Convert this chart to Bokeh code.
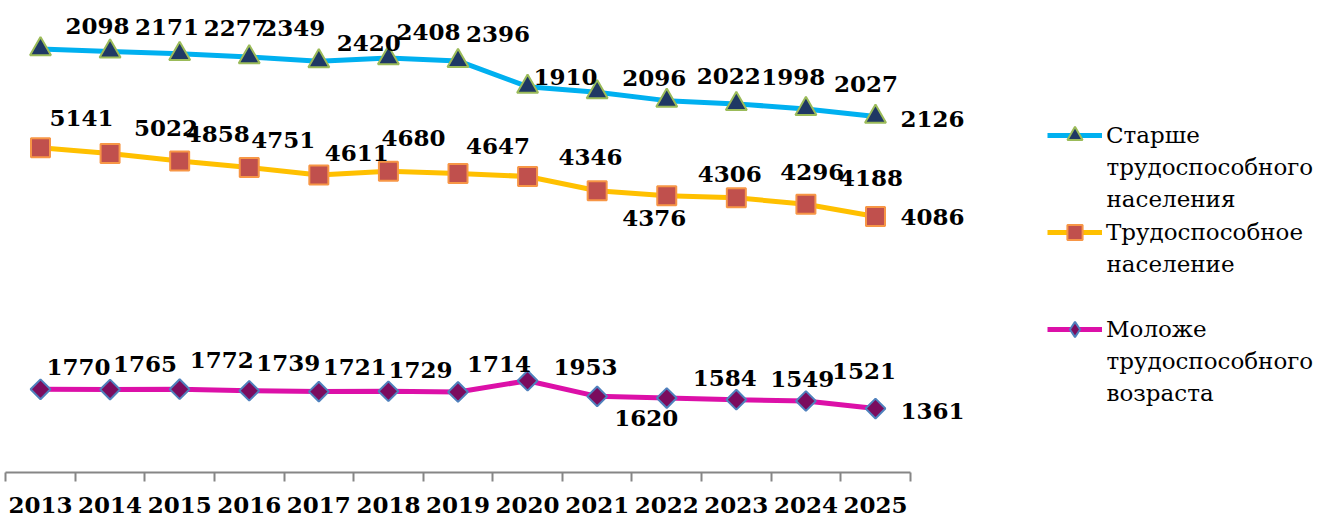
from bokeh.plotting import figure
from bokeh.models import (Range1d, FixedTicker, LabelSet, ColumnDataSource,
                          Legend, LegendItem, Label)
from bokeh.core.properties import value
from bokeh.embed import file_html
from bokeh.resources import INLINE

# ---------------- data ----------------
years = ["2013", "2014", "2015", "2016", "2017", "2018", "2019",
         "2020", "2021", "2022", "2023", "2024", "2025"]
younger = [1770, 1765, 1772, 1739, 1721, 1729, 1714, 1953, 1620, 1584, 1549, 1521, 1361]
working = [5141, 5022, 4858, 4751, 4611, 4680, 4647, 4346, 4376, 4306, 4296, 4188, 4086]
older = [2098, 2171, 2277, 2349, 2420, 2408, 2396, 1910, 2096, 2022, 1998, 2027, 2126]

series_names = ["Старше\nтрудоспособного\nнаселения",
                "Трудоспособное\nнаселение",
                "Моложе\nтрудоспособного\nвозраста"]

# ---------------- label placement (screen px, dx right / dy down) ----------------
young_dx = [38, 35, 42, 39, 36, 32, 41, 58, 49, 58, 66, 58, 57]
young_dy = [-22, -26, -29, -28, -25, -21, -28, -14, 22, -20, -21, -30, 2]
work_dx = [41, 56, 38, 34, 38, 25, 40, 63, 57, 63, 76, 65, 57]
work_dy = [-30, -26, -27, -27, -22, -33, -28, -19, 27, -22, -26, -26, 1]
old_dx = [57, 57, 56, 44, 50, 40, 40, 38, 57, 62, 57, 60, 57]
old_dy = [-23, -24, -26, -29, -18, -26, -27, -10, -14, -25, -27, -25, 2]

# ---------------- layout constants ----------------
W, H = 1317, 516
FRAME_H = 472          # axis line position from top
STEP = 69.583          # px per category
X0 = 40                # px of first category centre
SERIF = "DejaVu Serif"
FS_BOLD = "23px"
FS_LEG = "23px"

x = list(range(len(years)))
# stacked line chart: cumulative sums
cum_young = list(younger)
cum_work = [a + b for a, b in zip(cum_young, working)]
cum_old = [a + b for a, b in zip(cum_work, older)]

p = figure(width=W, height=H, output_backend="svg", toolbar_location=None,
           x_range=Range1d(-X0 / STEP, (W - X0) / STEP),
           y_range=Range1d(0, FRAME_H / 0.047),
           y_axis_location=None,
           min_border_left=0, min_border_right=0,
           min_border_top=0, min_border_bottom=H - FRAME_H)
p.outline_line_color = None
p.xgrid.visible = False
p.ygrid.visible = False
p.background_fill_color = "white"
p.border_fill_color = "white"

# x axis: labels at category centres, tick marks between categories
ax = p.xaxis[0]
ax.bounds = (-0.5, len(years) - 0.5)
ax.ticker = FixedTicker(ticks=x, minor_ticks=[i - 0.5 for i in range(len(years) + 1)])
ax.major_label_overrides = {i: y for i, y in enumerate(years)}
ax.major_tick_line_color = None
ax.major_tick_in = 0
ax.major_tick_out = 0
ax.minor_tick_line_color = "#868686"
ax.minor_tick_line_width = 2
ax.minor_tick_in = 0
ax.minor_tick_out = 9
ax.axis_line_color = "#868686"
ax.axis_line_width = 2
ax.major_label_standoff = 15
ax.major_label_text_font = SERIF
ax.major_label_text_font_style = "bold"
ax.major_label_text_font_size = FS_BOLD
ax.major_label_text_color = "black"

# series
Y_COL, Y_FILL, Y_EDGE = "#DC10A8", "#7B0C5E", "#4F81BD"
r_y_line = p.line(x, cum_young, line_color=Y_COL, line_width=5)
# diamond key used by the legend (drawn small, fully covered by the markers above it)
r_y_key = p.scatter(x, cum_young, marker="diamond", size=8, fill_color=Y_FILL,
                    line_color=Y_EDGE, line_width=2)
r_y_pts = p.scatter(x, cum_young, marker="square", angle=0.785398, size=14,
                    fill_color=Y_FILL, line_color=Y_EDGE, line_width=2)
r_w_line = p.line(x, cum_work, line_color="#FFC000", line_width=5)
r_w_pts = p.scatter(x, cum_work, marker="square", size=19,
                    fill_color="#C0504D", line_color="#F79646", line_width=2)
r_o_line = p.line(x, cum_old, line_color="#00B0F0", line_width=5)
r_o_pts = p.scatter(x, cum_old, marker="triangle", size=21,
                    fill_color="#1F3864", line_color="#9BBB59", line_width=2)

# data labels
for cum, vals, dx, dy in [(cum_young, younger, young_dx, young_dy),
                          (cum_work, working, work_dx, work_dy),
                          (cum_old, older, old_dx, old_dy)]:
    src = ColumnDataSource(dict(x=x, y=cum, text=[str(v) for v in vals],
                                dx=dx, dy=[-d for d in dy]))
    p.add_layout(LabelSet(x="x", y="y", text="text", x_offset="dx", y_offset="dy",
                          source=src, text_align="center", text_baseline="middle",
                          text_font=value(SERIF), text_font_style="bold",
                          text_font_size=FS_BOLD, text_color="black"))

# legend (first lines via Legend, continuation lines via Labels)
LEG_X = 1047
LEG_TOP = 116
GLYPH_W, ROW_H, GAP = 55, 38, 59
ITEM_PITCH = ROW_H + GAP
LINE_PITCH = 31.5
first_lines = [n.split("\n")[0] for n in series_names]
leg_h = 3 * ROW_H + 2 * GAP
legend = Legend(items=[LegendItem(label=first_lines[0], renderers=[r_o_line, r_o_pts]),
                       LegendItem(label=first_lines[1], renderers=[r_w_line, r_w_pts]),
                       LegendItem(label=first_lines[2], renderers=[r_y_line, r_y_key])],
                location=(LEG_X, FRAME_H - LEG_TOP - leg_h), orientation="vertical",
                padding=0, margin=0,
                spacing=GAP, glyph_width=GLYPH_W, glyph_height=ROW_H, label_height=ROW_H,
                label_width=10, label_standoff=4,
                label_text_font=SERIF, label_text_font_size=FS_LEG,
                label_text_color="black", label_text_baseline="middle",
                border_line_color=None, background_fill_alpha=0)
p.add_layout(legend)

for k, name in enumerate(series_names):
    lines = name.split("\n")
    first_center = LEG_TOP + ROW_H / 2 + k * ITEM_PITCH
    for j, txt in enumerate(lines[1:], start=1):
        cy = first_center + j * LINE_PITCH
        p.add_layout(Label(x=LEG_X + GLYPH_W + 4, y=FRAME_H - cy,
                           x_units="screen", y_units="screen",
                           text=txt, text_align="left", text_baseline="middle",
                           text_font=SERIF, text_font_size=FS_LEG, text_color="black"))

open("out.html", "w").write(file_html(p, INLINE))
